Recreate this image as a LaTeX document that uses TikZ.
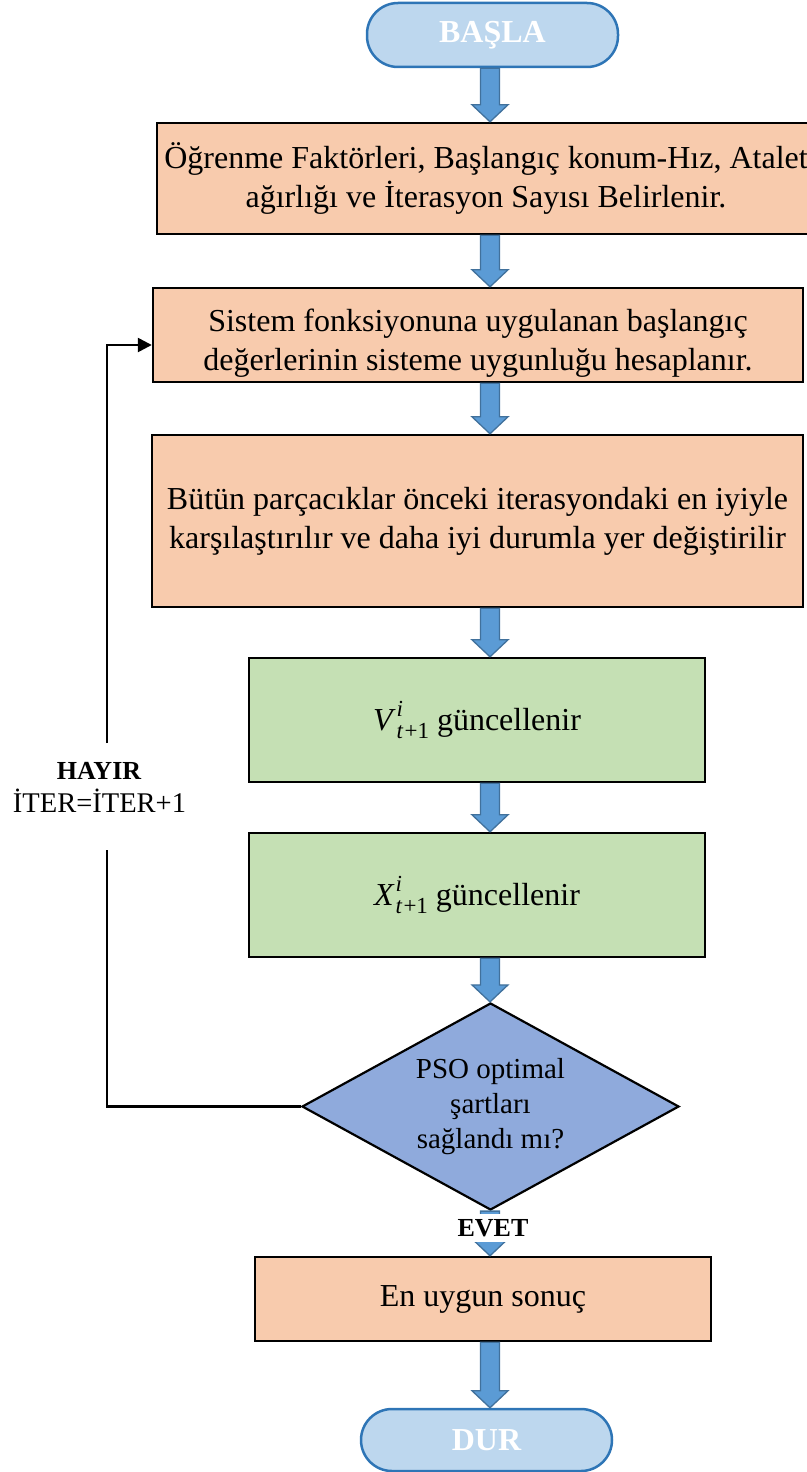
\documentclass[tikz,border=0pt]{standalone}
\usepackage{fontspec}
\setmainfont{Liberation Serif}
\usetikzlibrary{calc,shapes.geometric,arrows.meta}
\definecolor{peach}{HTML}{F8CBAD}
\definecolor{lgreen}{HTML}{C5E0B4}
\definecolor{dblue}{HTML}{8FAADC}
\definecolor{tfill}{HTML}{BDD7EE}
\definecolor{tborder}{HTML}{2E75B6}
\definecolor{afill}{HTML}{5B9BD5}
\definecolor{aborder}{HTML}{41719C}
\newcommand{\barrow}[2]{%
  \filldraw[blockarrow] let \p1=(#1.south), \p2=(#2.north), \p3=(col) in
  (\x3-9.5pt,\y1) -- (\x3+9.5pt,\y1) -- (\x3+9.5pt,\y2+17pt) -- (\x3+18pt,\y2+17pt)
  -- (\x3,\y2) -- (\x3-18pt,\y2+17pt) -- (\x3-9.5pt,\y2+17pt) -- cycle;}
\newcommand{\varsym}[1]{\textit{#1}\kern1pt\begingroup\fontsize{23}{23}\selectfont
  \raisebox{-8pt}{\rlap{\raisebox{22pt}{\textit{i}}}\textit{t}\kern1pt+1}\endgroup}
\begin{document}
\begin{tikzpicture}[x=1pt,y=-1pt,
  term/.style={draw=tborder, line width=2.5pt, fill=tfill, text=white,
    rounded corners=31pt, inner sep=0pt,
    font=\fontsize{32}{38}\selectfont\bfseries},
  proc/.style={draw=black, line width=2.4pt, fill=peach, align=center, inner sep=0pt,
    font=\fontsize{32}{39}\selectfont},
  blockarrow/.style={fill=afill, draw=aborder, line width=1.3pt},
  loopline/.style={draw=black, line width=2.5pt}]
\useasboundingbox (0,0) rectangle (806,1472);
\coordinate (col) at (490,0);
\node[term, minimum width=251pt, minimum height=64pt] (start) at (492.5,35) {BAŞLA};
\node[proc, minimum width=658pt, minimum height=111pt] (b1) at (486,178.5)
  {Öğrenme Faktörleri, Başlangıç konum-Hız, Atalet\\ağırlığı ve İterasyon Sayısı Belirlenir.};
\node[proc, minimum width=650pt, minimum height=94pt] (b2) at (478,335)
  {\rule{0pt}{38pt}Sistem fonksiyonuna uygulanan başlangıç\\değerlerinin sisteme uygunluğu hesaplanır.};
\node[proc, minimum width=651pt, minimum height=172pt] (b3) at (477.5,521)
  {Bütün parçacıklar önceki iterasyondaki en iyiyle\\karşılaştırılır ve daha iyi durumla yer değiştirilir};
\node[proc, fill=lgreen, minimum width=456pt, minimum height=124pt] (b4) at (477,720)
  {\varsym{V} güncellenir};
\node[proc, fill=lgreen, minimum width=456pt, minimum height=124pt] (b5) at (477,895)
  {\varsym{X} güncellenir};
\node[diamond, draw=black, line width=2.2pt, fill=dblue, aspect=1.84,
  minimum width=377pt, minimum height=207pt, inner sep=0pt, align=center,
  font=\fontsize{29}{35}\selectfont] (dia) at (490.5,1106.5)
  {PSO optimal\\şartları\\sağlandı mı?};
\node[proc, minimum width=456pt, minimum height=84pt] (b6) at (483,1299) {En uygun sonuç};
\node[term, minimum width=251pt, minimum height=62pt] (stop) at (486.5,1440) {DUR};
\barrow{start}{b1}
\barrow{b1}{b2}
\barrow{b2}{b3}
\barrow{b3}{b4}
\barrow{b4}{b5}
\barrow{b5}{dia}
\barrow{dia}{b6}
\barrow{b6}{stop}
\node[fill=white, inner xsep=1pt, inner ysep=5pt,
  font=\fontsize{26}{30}\selectfont\bfseries] (evet) at (493,1228) {EVET};
\coordinate (c1) at (107,850);
\coordinate (c2) at (107,743);
\coordinate (c3) at (107,345);
\draw[loopline] (dia.west) -| (c1);
\draw[loopline, -{Triangle[length=14pt,width=14pt]}] (c2) -- (c3) -- (c3 -| b2.west);
\node[anchor=base, inner sep=0pt, font=\fontsize{26}{30}\selectfont\bfseries] (hayir) at (99,779) {HAYIR};
\node[anchor=base, inner sep=0pt, font=\fontsize{28.5}{33}\selectfont] (iter) at (99.5,812) {İTER=İTER+1};
\end{tikzpicture}
\end{document}
